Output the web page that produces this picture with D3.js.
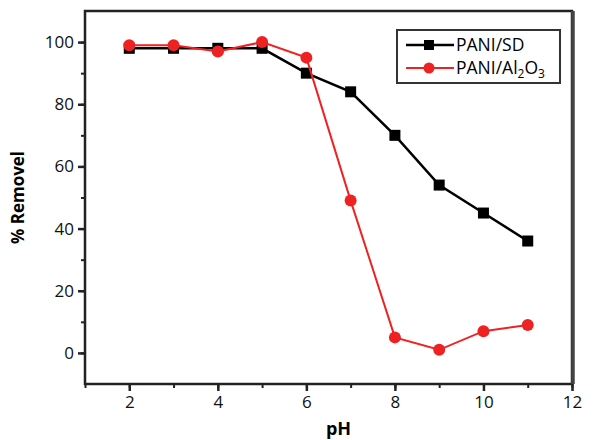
<!DOCTYPE html>
<html>
<head>
<meta charset="utf-8">
<script src="https://cdn.jsdelivr.net/npm/d3@7"></script>
<style>
  body { margin: 0; background: #fff; }
  text { font-family: "Open Sans", "DejaVu Sans", sans-serif; }
</style>
</head>
<body>
<svg class="chart" width="599" height="440"></svg>
<script>
// pH values
let ph = [2, 3, 4, 5, 6, 7, 8, 9, 10, 11]
// % removal for each adsorbent
let pani_sd = [98, 98, 98, 98, 90, 84, 70, 54, 45, 36]
let pani_al = [99, 99, 97, 100, 95, 49, 5, 1, 7, 9]

let x_ticks = [2, 4, 6, 8, 10, 12]
let y_ticks = [0, 20, 40, 60, 80, 100]

const margin = {top: 11, left: 85, right: 27, bottom: 56}
const width = 599
const height = 440

var svg = d3.select(".chart")

let xScale = d3.scaleLinear()
    .domain([1, 12])
    .range([margin.left, width - margin.right])

let yScale = d3.scaleLinear()
    .domain([-10, 110])
    .range([height - margin.bottom, margin.top])

// frame
svg.append("rect")
    .attr("x", xScale(1))
    .attr("y", yScale(110))
    .attr("width", xScale(12) - xScale(1))
    .attr("height", yScale(-10) - yScale(110))
    .attr("fill", "none")
    .attr("stroke", "#222")
    .attr("stroke-width", 2.5)

// right edge is drawn heavier in the original
svg.append("line")
    .attr("x1", xScale(12) + 1).attr("x2", xScale(12) + 1)
    .attr("y1", yScale(110)).attr("y2", yScale(-10))
    .attr("stroke", "#444")
    .attr("stroke-width", 3.5)

// x axis, major + minor
svg.append("g")
    .attr("transform", `translate(0, ${yScale(-10)})`)
    .call(d3.axisBottom(xScale).tickValues(d3.range(1, 13)).tickSize(4).tickFormat(""))
    .call(g => g.select(".domain").remove())
    .call(g => g.selectAll("line").attr("stroke", "#222").attr("stroke-width", 2))

svg.append("g")
    .attr("transform", `translate(0, ${yScale(-10)})`)
    .call(d3.axisBottom(xScale).tickValues(x_ticks).tickSize(7).tickPadding(5))
    .call(g => g.select(".domain").remove())
    .call(g => g.selectAll("line").attr("stroke", "#222").attr("stroke-width", 2.5))
    .call(g => g.selectAll("text").attr("font-size", 17).attr("fill", "#111")
        .attr("font-family", "'Open Sans', sans-serif"))

// y axis, major + minor
svg.append("g")
    .attr("transform", `translate(${xScale(1)}, 0)`)
    .call(d3.axisLeft(yScale).tickValues(d3.range(0, 110, 10)).tickSize(4).tickFormat(""))
    .call(g => g.select(".domain").remove())
    .call(g => g.selectAll("line").attr("stroke", "#222").attr("stroke-width", 2))

svg.append("g")
    .attr("transform", `translate(${xScale(1)}, 0)`)
    .call(d3.axisLeft(yScale).tickValues(y_ticks).tickSize(7).tickPadding(4))
    .call(g => g.select(".domain").remove())
    .call(g => g.selectAll("line").attr("stroke", "#222").attr("stroke-width", 2.5))
    .call(g => g.selectAll("text").attr("font-size", 17).attr("fill", "#111")
        .attr("font-family", "'Open Sans', sans-serif"))

// axis titles
svg.append("text")
    .attr("x", (xScale(1) + xScale(12)) / 2 + 10)
    .attr("y", 435)
    .attr("text-anchor", "middle")
    .attr("font-size", 18)
    .attr("font-weight", "bold")
    .text("pH")

svg.append("text")
    .attr("transform", `translate(24, ${(yScale(-10) + yScale(110)) / 2}) rotate(-90)`)
    .attr("text-anchor", "middle")
    .attr("font-size", 17)
    .attr("font-weight", "bold")
    .attr("font-family", "'Liberation Sans', Arial, sans-serif")
    .text("% Removel")

let line = d3.line()
    .x(d => xScale(d[0]))
    .y(d => yScale(d[1]))

let sd = ph.map((p, i) => [p, pani_sd[i]])
let al = ph.map((p, i) => [p, pani_al[i]])

// black series
svg.append("path")
    .datum(sd)
    .attr("d", line)
    .attr("fill", "none")
    .attr("stroke", "#000")
    .attr("stroke-width", 2.5)

svg.append("g")
    .selectAll("rect.sd")
    .data(sd)
    .enter()
    .append("rect")
    .classed("sd", true)
    .attr("x", d => xScale(d[0]) - 5.5)
    .attr("y", d => yScale(d[1]) - 5.5)
    .attr("width", 11)
    .attr("height", 11)
    .attr("fill", "#000")

// red series
svg.append("path")
    .datum(al)
    .attr("d", line)
    .attr("fill", "none")
    .attr("stroke", "#ee2222")
    .attr("stroke-width", 2)

svg.append("g")
    .selectAll("circle.al")
    .data(al)
    .enter()
    .append("circle")
    .classed("al", true)
    .attr("cx", d => xScale(d[0]))
    .attr("cy", d => yScale(d[1]))
    .attr("r", 6)
    .attr("fill", "#ee2222")

// legend
let legend = svg.append("g").attr("transform", "translate(397, 30)")

legend.append("rect")
    .attr("width", 163)
    .attr("height", 53)
    .attr("fill", "#fff")
    .attr("stroke", "#333")
    .attr("stroke-width", 2)

legend.append("line")
    .attr("x1", 9).attr("x2", 57).attr("y1", 15).attr("y2", 15)
    .attr("stroke", "#000").attr("stroke-width", 2.5)
legend.append("rect")
    .attr("x", 27).attr("y", 10).attr("width", 10).attr("height", 10)
    .attr("fill", "#000")
legend.append("text")
    .attr("x", 59).attr("y", 21)
    .attr("font-size", 17.5)
    .text("PANI/SD")

legend.append("line")
    .attr("x1", 9).attr("x2", 57).attr("y1", 38).attr("y2", 38)
    .attr("stroke", "#ee2222").attr("stroke-width", 2)
legend.append("circle")
    .attr("cx", 32).attr("cy", 38).attr("r", 5.5)
    .attr("fill", "#ee2222")
let t2 = legend.append("text")
    .attr("x", 59).attr("y", 44)
    .attr("font-size", 17.5)
t2.append("tspan").text("PANI/Al")
t2.append("tspan").text("2").attr("font-size", 12).attr("dy", 4)
t2.append("tspan").text("O").attr("dy", -4)
t2.append("tspan").text("3").attr("font-size", 12).attr("dy", 4)
</script>
</body>
</html>
